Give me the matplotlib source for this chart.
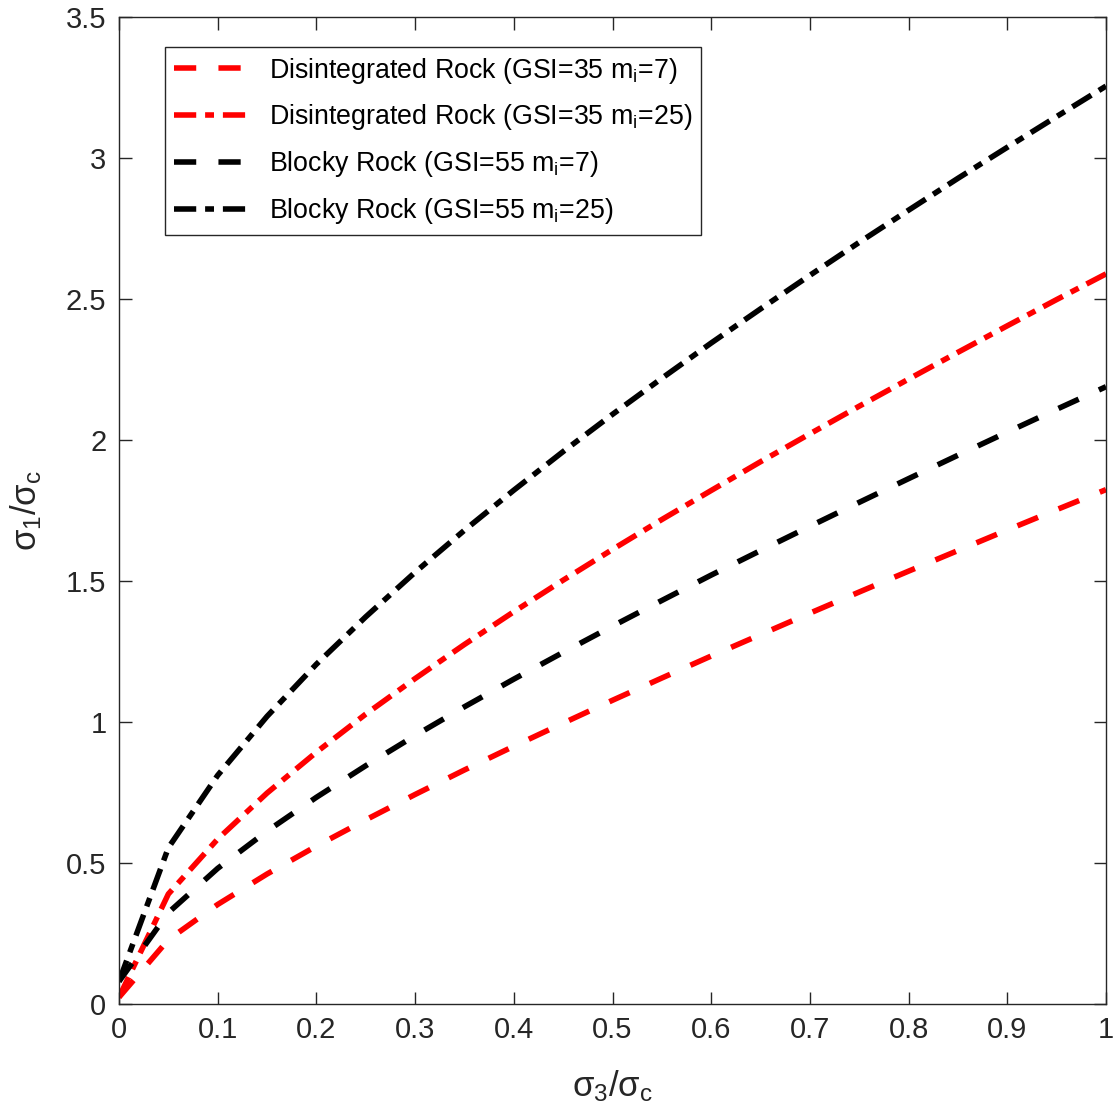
import matplotlib
matplotlib.use("Agg")
import matplotlib.pyplot as plt

plt.rcParams['font.family'] = ['Liberation Sans', 'DejaVu Sans']
plt.rcParams['mathtext.fontset'] = 'custom'
plt.rcParams['mathtext.rm'] = 'Liberation Sans'
plt.rcParams['mathtext.it'] = 'Liberation Sans'

# sigma3/sigma_c sample points
x = [0.00, 0.05, 0.10, 0.15, 0.20, 0.25, 0.30, 0.35, 0.40, 0.45, 0.50,
     0.55, 0.60, 0.65, 0.70, 0.75, 0.80, 0.85, 0.90, 0.95, 1.00]

dis_mi7 = [0.024, 0.228, 0.353, 0.461, 0.560, 0.653, 0.743, 0.830, 0.914, 0.996, 1.077,
           1.156, 1.234, 1.310, 1.386, 1.461, 1.535, 1.608, 1.681, 1.753, 1.824]
dis_mi25 = [0.024, 0.390, 0.585, 0.748, 0.893, 1.028, 1.154, 1.275, 1.391, 1.503, 1.612,
            1.718, 1.821, 1.923, 2.022, 2.120, 2.216, 2.311, 2.405, 2.498, 2.589]
blk_mi7 = [0.080, 0.324, 0.481, 0.613, 0.733, 0.845, 0.952, 1.054, 1.152, 1.247, 1.340,
           1.431, 1.521, 1.608, 1.694, 1.779, 1.863, 1.946, 2.028, 2.109, 2.189]
blk_mi25 = [0.080, 0.554, 0.811, 1.020, 1.205, 1.373, 1.531, 1.680, 1.822, 1.959, 2.091,
            2.219, 2.344, 2.465, 2.584, 2.701, 2.815, 2.928, 3.038, 3.147, 3.255]

labels = [r'Disintegrated Rock (GSI=35 $\mathregular{m_i}$=7)',
          r'Disintegrated Rock (GSI=35 $\mathregular{m_i}$=25)',
          r'Blocky Rock (GSI=55 $\mathregular{m_i}$=7)',
          r'Blocky Rock (GSI=55 $\mathregular{m_i}$=25)']

xticks = [0, 0.1, 0.2, 0.3, 0.4, 0.5, 0.6, 0.7, 0.8, 0.9, 1]
xticklabels = ['0', '0.1', '0.2', '0.3', '0.4', '0.5', '0.6', '0.7', '0.8', '0.9', '1']
yticks = [0, 0.5, 1, 1.5, 2, 2.5, 3, 3.5]
yticklabels = ['0', '0.5', '1', '1.5', '2', '2.5', '3', '3.5']

fig = plt.figure(figsize=(11.17, 11.16), dpi=100)
ax = fig.add_axes([119/1117, 1 - 1004/1116, (1106-119)/1117, (1004-17)/1116])

lw = 4
dash = (4, 4)
dashdot = (4, 1.6, 1.6, 1.6)
ax.plot(x, dis_mi7, color='#ff0000', lw=lw, dashes=dash, label=labels[0])
ax.plot(x, dis_mi25, color='#ff0000', lw=lw, dashes=dashdot, label=labels[1])
ax.plot(x, blk_mi7, color='black', lw=lw, dashes=dash, label=labels[2])
ax.plot(x, blk_mi25, color='black', lw=lw, dashes=dashdot, label=labels[3])

ax.set_xlim(0, 1)
ax.set_ylim(0, 3.5)
ax.set_xticks(xticks)
ax.set_xticklabels(xticklabels)
ax.set_yticks(yticks)
ax.set_yticklabels(yticklabels)

axcol = '#262626'
for s in ax.spines.values():
    s.set_color(axcol)
    s.set_linewidth(1.0)
ax.tick_params(direction='in', length=9, width=1, color=axcol, labelcolor=axcol,
               labelsize=21, top=True, right=True, pad=9)

ax.set_xlabel(r'$\mathregular{\sigma_3/\sigma_c}$', fontsize=25, color=axcol, labelpad=17)
ax.set_ylabel(r'$\mathregular{\sigma_1/\sigma_c}$', fontsize=25, color=axcol, labelpad=16)

leg = ax.legend(loc='upper left', bbox_to_anchor=(0.0466, 0.9696), borderaxespad=0,
                fontsize=19.3, handlelength=3.0, handletextpad=0.55, labelspacing=0.63,
                frameon=True, fancybox=False, borderpad=0.32)
leg.get_frame().set_edgecolor('#262626')
leg.get_frame().set_linewidth(1.0)
leg.get_frame().set_alpha(1)

fig.savefig('out.png', dpi=100)
